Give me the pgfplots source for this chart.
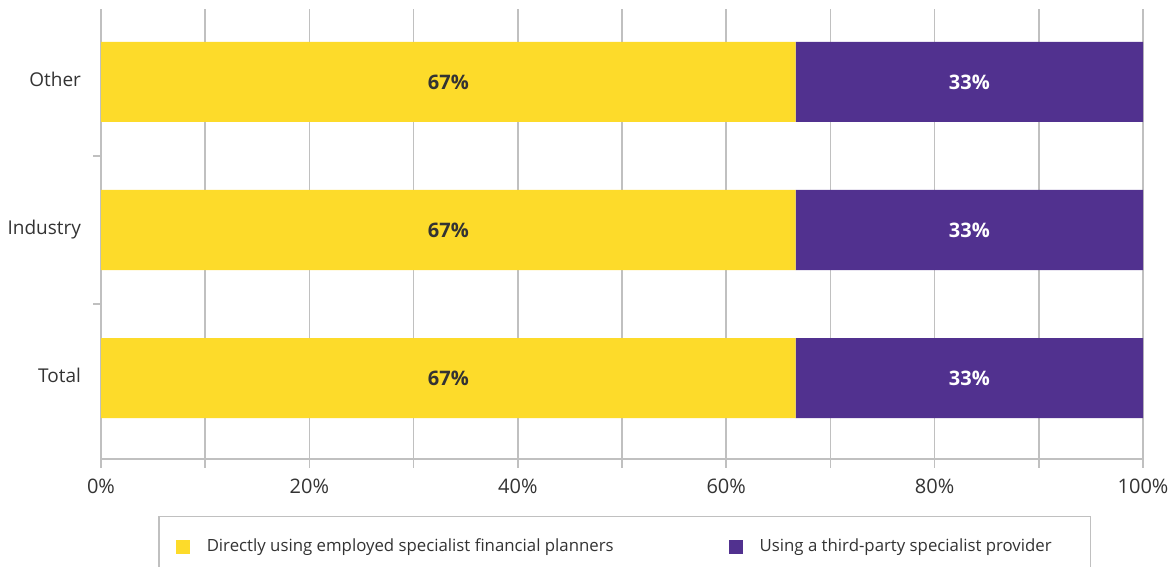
\documentclass[border=0pt]{standalone}
\usepackage{pgfplots}
\pgfplotsset{compat=1.18}
\usepackage{fontspec}
\setmainfont{Open Sans}
\definecolor{cyel}{HTML}{FDDB2A}
\definecolor{cpur}{HTML}{51318F}
\definecolor{cgrid}{HTML}{C0C0C0}
\definecolor{ctext}{HTML}{333333}
\begin{document}
\begin{tikzpicture}
\useasboundingbox (0,0) rectangle (586.5pt,283.5pt);
\begin{axis}[
  at={(50.5pt,54pt)}, anchor=south west,
  scale only axis, width=521pt, height=225pt,
  xbar stacked, bar width=40pt,
  xmin=0, xmax=100, ymin=-0.547, ymax=2.493,
  axis x line*=bottom, axis y line*=left,
  axis line style={draw=cgrid, line width=0.75pt, -},
  xtick={0,20,...,100}, minor xtick={10,30,...,90},
  xticklabel={\pgfmathprintnumber{\tick}\%},
  xmajorgrids, xminorgrids,
  grid style={draw=cgrid, line width=0.75pt},
  minor grid style={draw=cgrid, line width=0.75pt},
  tick align=outside, xtick pos=bottom,
  major tick length=4.5pt, minor tick length=4.5pt,
  xtick style={draw=cgrid, line width=0.75pt},
  ytick={0,1,2}, yticklabels={Total,Industry,Other},
  ytick style={draw=none},
  extra y ticks={0.5,1.5}, extra y tick labels={},
  extra y tick style={ytick style={draw=cgrid, line width=0.75pt}, major tick length=4pt, grid=none},
  yticklabel style={anchor=base east, xshift=-2pt, yshift=-2.4pt, font=\fontsize{9.5}{11}\selectfont},
  xticklabel style={yshift=-2pt, font=\fontsize{10}{12}\selectfont},
  tick label style={text=ctext},
  /pgf/number format/assume math mode=true,
  legend style={at={(0.0547,0)}, anchor=north west, yshift=-28.5pt,
    draw=cgrid, line width=0.75pt, inner xsep=8.5pt, inner ysep=9pt,
    font=\fontsize{8.4}{10}\selectfont, text=ctext,
    legend columns=2,
    /tikz/every even column/.append style={column sep=55.5pt}},
  legend cell align=left,
  legend image code/.code={\fill[#1] (0pt,-3.5pt) rectangle (7pt,3.5pt); \path (13.5pt,0pt);},
  nodes near coords={\pgfmathprintnumber[fixed,precision=0]{\pgfplotspointmeta}\%},
  point meta=explicit,
  every node near coord/.append style={font=\bfseries\fontsize{10}{12}\selectfont},
]
\addplot[fill=cyel, draw=none, every node near coord/.append style={text=ctext}]
  coordinates {(66.67,0) [66.67] (66.67,1) [66.67] (66.67,2) [66.67]};
\addlegendentry{Directly using employed specialist financial planners}
\addplot[fill=cpur, draw=none, every node near coord/.append style={text=white}]
  coordinates {(33.33,0) [33.33] (33.33,1) [33.33] (33.33,2) [33.33]};
\addlegendentry{Using a third-party specialist provider\hspace*{9pt}}
\end{axis}
\end{tikzpicture}
\end{document}
